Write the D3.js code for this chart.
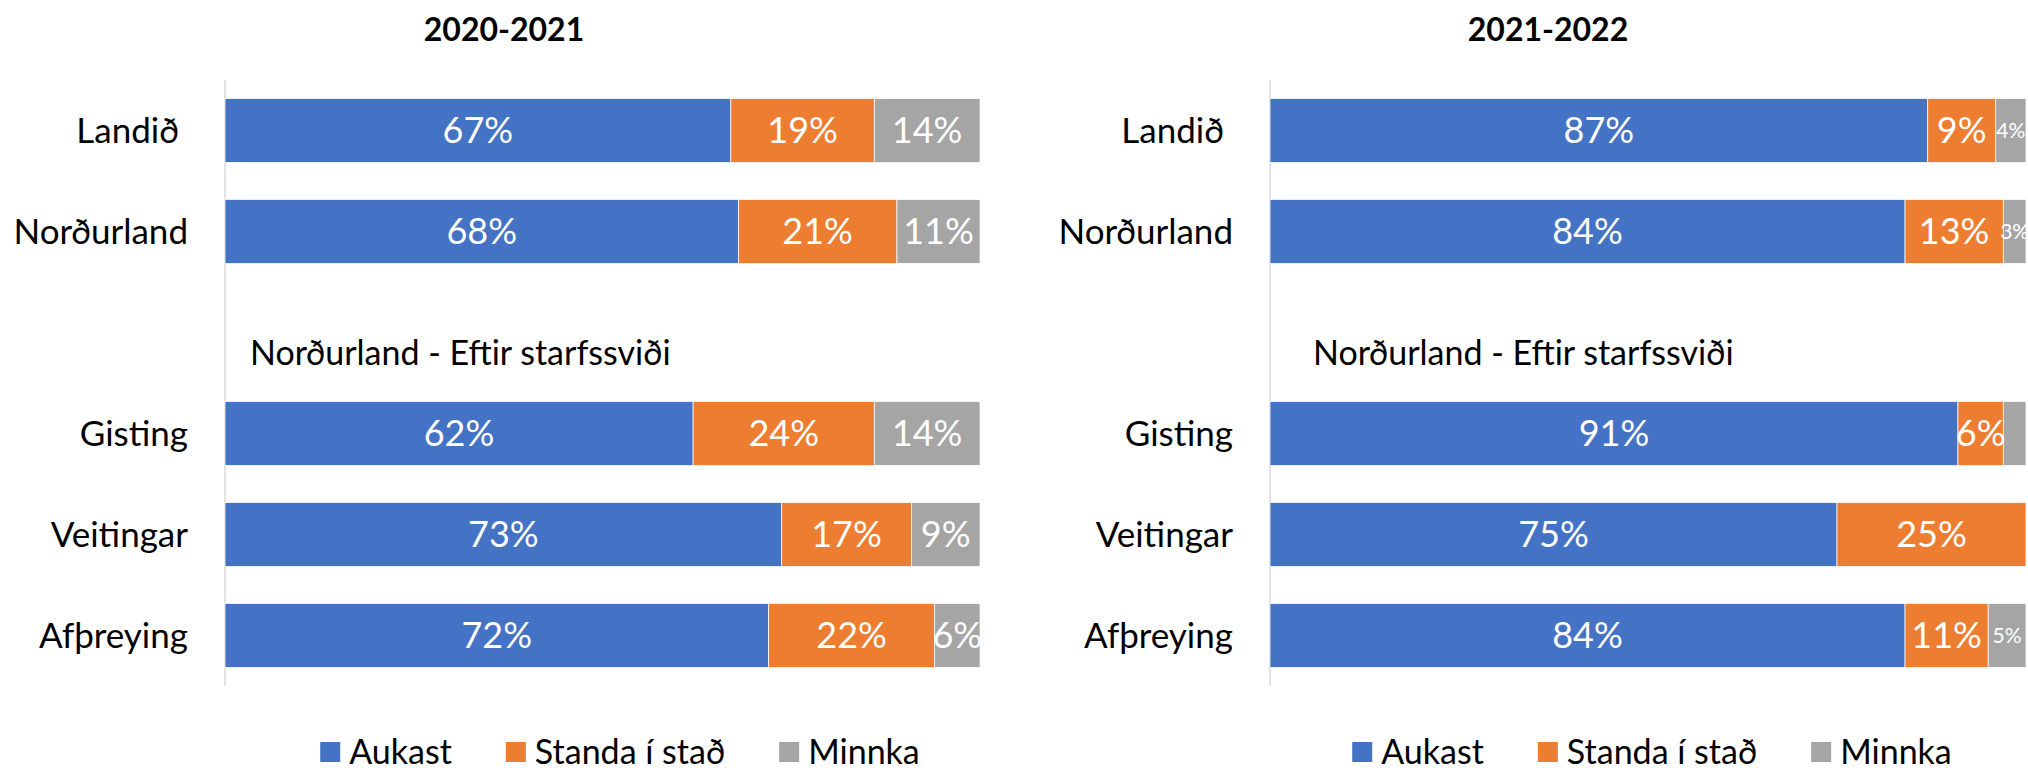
<!DOCTYPE html>
<html>
<head>
<meta charset="utf-8">
<script src="https://cdn.jsdelivr.net/npm/d3@7"></script>
<style>
  body { margin: 0; background: #fff; }
  text { font-family: Lato, "Open Sans", sans-serif; white-space: pre; }
</style>
</head>
<body>
<div id="chart"></div>
<script>
const width = 2028, height = 771;

// categories (the blank slot between the two groups holds the subtitle)
const rowsTop = ["Landið ", "Norðurland"];
const rowsSector = ["Gisting", "Veitingar", "Afþreying"];
const rows = [...rowsTop, "gap", ...rowsSector];
const series = ["Aukast", "Standa í stað", "Minnka"];
const colors = ["#4472C4", "#ED7D31", "#A5A5A5"];
const titles = ["2020-2021", "2021-2022"];
const subtitle = "Norðurland - Eftir starfssviði";

// 2020-2021
const aukast2021 = [67, 68, 62, 73, 72];
const standa2021 = [19, 21, 24, 17, 22];
const minnka2021 = [14, 11, 14, 9, 6];
// 2021-2022
const aukast2122 = [87, 84, 91, 75, 84];
const standa2122 = [9, 13, 6, 25, 11];
const minnka2122 = [4, 3, 3, 0, 5];
// labels that were removed in the original
const hiddenLabels = [["2021-2022", "Gisting", "Minnka"]];

const panels = [
  {title: titles[0], vals: [aukast2021, standa2021, minnka2021], left: 225, right: 980, titleX: 504, subX: 250, legendX: 620},
  {title: titles[1], vals: [aukast2122, standa2122, minnka2122], left: 1270, right: 2026, titleX: 1548, subX: 1313, legendX: 1652}
];

const svg = d3.select("#chart")
  .append("svg")
  .attr("width", width)
  .attr("height", height);

const y = d3.scaleBand()
  .domain(rows)
  .range([80, 686])
  .paddingInner(0.366)
  .paddingOuter(0.183);

const cats = [...rowsTop, ...rowsSector];

panels.forEach(p => {
  const g = svg.append("g");

  const table = cats.map((c, i) => {
    const row = {cat: c};
    series.forEach((s, j) => row[s] = p.vals[j][i]);
    return row;
  });

  const stacked = d3.stack().keys(series).offset(d3.stackOffsetExpand)(table);

  const x = d3.scaleLinear()
    .domain([0, 1])
    .range([p.left, p.right]);

  // title
  g.append("text")
    .attr("x", p.titleX)
    .attr("y", 41)
    .attr("text-anchor", "middle")
    .attr("font-size", 32)
    .attr("font-weight", "bold")
    .text(p.title);

  // vertical axis line
  g.append("line")
    .attr("x1", p.left).attr("x2", p.left)
    .attr("y1", 80).attr("y2", 686)
    .attr("stroke", "#d9d9d9")
    .attr("stroke-width", 1.5);

  const layer = g.selectAll(".layer")
    .data(stacked)
    .join("g")
    .attr("fill", (d, i) => colors[i]);

  layer.selectAll("rect")
    .data(d => d)
    .join("rect")
    .attr("x", d => x(d[0]))
    .attr("y", d => y(d.data.cat))
    .attr("width", d => x(d[1]) - x(d[0]))
    .attr("height", y.bandwidth())
    .attr("stroke", "#fff")
    .attr("stroke-width", 0.75);

  // data labels
  stacked.forEach(s => {
    s.forEach(d => {
      const v = d.data[s.key];
      const w = x(d[1]) - x(d[0]);
      const hidden = hiddenLabels.some(h => h[0] === p.title && h[1] === d.data.cat.trim() && h[2] === s.key);
      if (!v || hidden) return;
      g.append("text")
        .attr("x", (x(d[0]) + x(d[1])) / 2)
        .attr("y", y(d.data.cat) + y.bandwidth() / 2)
        .attr("dy", "0.36em")
        .attr("text-anchor", "middle")
        .attr("fill", "#fff")
        .attr("font-size", w < 42 ? 21 : 36)
        .text(v + "%");
    });
  });

  // category labels
  g.selectAll(".cat")
    .data(cats)
    .join("text")
    .attr("x", p.left - 37)
    .attr("y", d => y(d) + y.bandwidth() / 2)
    .attr("dy", "0.36em")
    .attr("text-anchor", "end")
    .attr("font-size", 35)
    .text(d => d);

  // subtitle in the blank slot, sitting a little low like the original
  g.append("text")
    .attr("x", p.subX)
    .attr("y", y("gap") + y.bandwidth() / 2 + 20)
    .attr("dy", "0.36em")
    .attr("font-size", 34)
    .text(subtitle);

  // legend
  const leg = g.append("g");
  let lx = 0;
  series.forEach((s, i) => {
    leg.append("rect")
      .attr("x", lx).attr("y", 742)
      .attr("width", 20).attr("height", 20)
      .attr("fill", colors[i]);
    const t = leg.append("text")
      .attr("x", lx + 29)
      .attr("y", 752)
      .attr("dy", "0.36em")
      .attr("font-size", 34)
      .text(s);
    lx += 29 + t.node().getComputedTextLength() + 54;
  });
  const lw = lx - 54;
  leg.attr("transform", `translate(${p.legendX - lw / 2},0)`);
});
</script>
</body>
</html>
